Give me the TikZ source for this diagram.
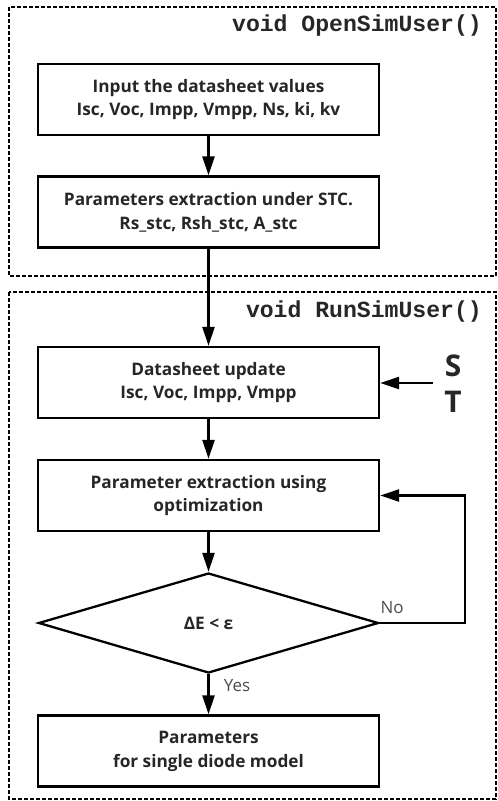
\documentclass[tikz,border=0pt]{standalone}
\usepackage{fontspec}
\setmainfont{Open Sans}
\newfontfamily\codefont{Liberation Mono}
\usetikzlibrary{arrows.meta,shapes.geometric}
\begin{document}
\begin{tikzpicture}[x=1bp,y=-1bp,
  proc/.style={draw, line width=2.3bp, minimum width=341bp, minimum height=71bp, align=center,
    font=\fontsize{17.3}{24}\selectfont\bfseries, text=black!85, inner sep=0pt},
  dec/.style={draw, diamond, line width=2.3bp, minimum width=340bp, minimum height=100bp, aspect=3.4,
    font=\fontsize{17.3}{24}\selectfont\bfseries, text=black!85, inner sep=0pt},
  grp/.style={draw, line width=2.2bp, dash pattern=on 4bp off 2bp},
  code/.style={font=\codefont\bfseries\fontsize{23.2}{24}\selectfont, text=black!85, inner sep=0pt},
  arr/.style={line width=2.3bp, -{Triangle[length=19bp,width=12bp]}},
  lab/.style={font=\fontsize{17}{18}\selectfont, text=black!70, inner sep=0pt},
  big/.style={font=\fontsize{30}{30}\selectfont\bfseries, text=black!85, inner sep=0pt}
]
\useasboundingbox (0,0) rectangle (498,801);
\draw[grp] (9,7) rectangle (496,276);
\draw[grp] (9,292) rectangle (496,799);
\node[code, anchor=east] (t1) at (482,26) {void OpenSimUser()};
\node[code, anchor=east] (t2) at (482,312) {void RunSimUser()};
\node[proc] (b1) at (208.5,99.5) {Input the datasheet values\\Isc, Voc, Impp, Vmpp, Ns, ki, kv};
\node[proc] (b2) at (208.5,212) {Parameters extraction under STC.\\Rs\_stc, Rsh\_stc, A\_stc};
\node[proc] (b3) at (208.5,382.5) {Datasheet update\\Isc, Voc, Impp, Vmpp};
\node[proc] (b4) at (208.5,495.5) {Parameter extraction using\\optimization};
\node[dec] (d) at (208.5,623) {ΔE < ε};
\node[proc] (b5) at (208.5,751) {Parameters\\for single diode model};
\node[big] (s) at (453,366) {S};
\node[big] (t) at (453,402) {T};
\coordinate (st) at (433,383);
\coordinate (loop) at (465,623);
\node[lab] (no) at (392,608) {No};
\node[lab] (yes) at (237,686) {Yes};
\draw[arr] (b1) -- (b2);
\draw[arr] (b2) -- (b3);
\draw[arr] (b3) -- (b4);
\draw[arr] (b4) -- (d);
\draw[arr] (d) -- (b5);
\draw[arr] (st) -- (st -| b3.east);
\draw[arr] (d.east) -- (loop) |- (b4.east);
\end{tikzpicture}
\end{document}
